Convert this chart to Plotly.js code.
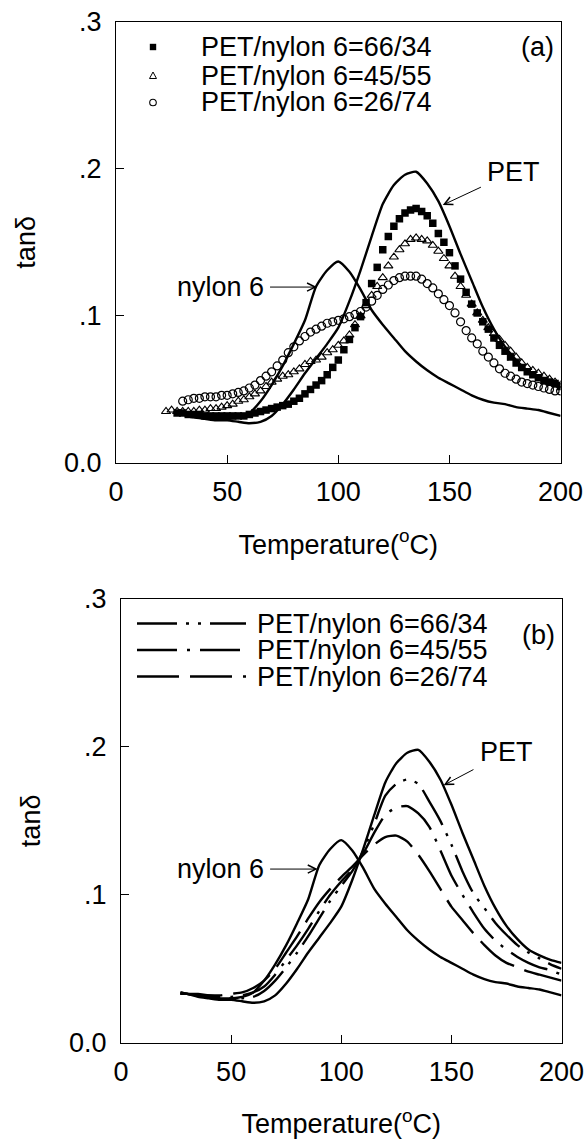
<!DOCTYPE html>
<html><head><meta charset="utf-8">
<script src="https://cdn.plot.ly/plotly-3.0.1.min.js"></script>
<style>html,body{margin:0;padding:0;background:#fff}#chart{width:585px;height:1141px}</style>
</head><body><div id="chart"></div>
<script>
// ---------- data ----------
const seriesNames = ['PET/nylon 6=66/34', 'PET/nylon 6=45/55', 'PET/nylon 6=26/74'];
const pureNames = ['PET', 'nylon 6'];
const panelLabels = ['(a)', '(b)'];
const tempTicks = [0, 50, 100, 150, 200];
const tanTicks = [0, 0.1, 0.2, 0.3];
const tanTickText = ['0.0', '.1', '.2', '.3'];

// pure components (same curves in both panels)
const tempPure = [27,30,35,40,45,50,55,60,65,70,75,80,85,90,95,100,105,110,115,120,125,130,135,140,145,150,155,160,165,170,175,180,185,190,195,200];
const tanPET   = [.034,.033,.031,.030,.029,.029,.028,.027,.028,.032,.040,.050,.061,.071,.081,.092,.110,.131,.154,.176,.189,.196,.198,.190,.178,.161,.142,.124,.106,.091,.079,.070,.063,.059,.056,.054];
const tanNylon = [.034,.033,.032,.031,.030,.030,.031,.034,.042,.053,.066,.081,.097,.120,.131,.137,.130,.118,.104,.094,.085,.076,.069,.063,.058,.054,.050,.046,.043,.041,.040,.038,.037,.036,.034,.032];

// panel (a): measured blends (symbols)
const tempSq = [27.5,30,32.5,35,37.5,40,42.5,45,47.5,50,52.5,55,57.5,60,62.5,65,67.5,70,72.5,75,77.5,80,82.5,85,87.5,90,92.5,95,97.5,100,102.5,105,107.5,110,112.5,115,117.5,120,122.5,125,127.5,130,132.5,135,137.5,140,142.5,145,147.5,150,152.5,155,157.5,160,162.5,165,167.5,170,172.5,175,177.5,180,182.5,185,187.5,190,192.5,195,197.5,200];
const tanSq = [.034,.034,.033,.033,.033,.032,.032,.032,.032,.032,
  .032,.032,.032,.033,.034,.035,.036,.037,.038,.039,
  .040,.042,.044,.047,.050,.053,.056,.060,.065,.070,
  .077,.084,.092,.0995,.109,.122,.133,.145,.154,.161,
  .166,.170,.172,.173,.171,.168,.163,.156,.150,.143,
  .134,.125,.116,.108,.102,.096,.091,.085,.080,.076,
  .072,.068,.065,.062,.060,.058,.056,.055,.054,.052];
const tempTri = [22.5,25,27.5,30,32.5,35,37.5,40,42.5,45,47.5,50,52.5,55,57.5,60,62.5,65,67.5,70,72.5,75,77.5,80,82.5,85,87.5,90,92.5,95,97.5,100,102.5,105,107.5,110,112.5,115,117.5,120,122.5,125,127.5,130,132.5,135,137.5,140,142.5,145,147.5,150,152.5,155,157.5,160,162.5,165,167.5,170,172.5,175,177.5,180,182.5,185,187.5,190,192.5,195,197.5,200];
const tanTri = [.035,.036,.035,.035,.035,.035,.036,.036,.037,.037,
  .038,.039,.040,.042,.043,.045,.047,.049,.052,.055,
  .057,.059,.060,.062,.064,.067,.069,.070,.072,.075,
  .077,.080,.083,.087,.094,.100,.107,.114,.120,.126,
  .134,.140,.145,.149,.152,.153,.152,.151,.148,.144,
  .139,.134,.127,.120,.114,.108,.102,.097,.092,.088,
  .084,.080,.076,.072,.068,.065,.063,.061,.059,.057,
  .055,.053];
const tempCir = [30,32.5,35,37.5,40,42.5,45,47.5,50,52.5,55,57.5,60,62.5,65,67.5,70,72.5,75,77.5,80,82.5,85,87.5,90,92.5,95,97.5,100,102.5,105,107.5,110,112.5,115,117.5,120,122.5,125,127.5,130,132.5,135,137.5,140,142.5,145,147.5,150,152.5,155,157.5,160,162.5,165,167.5,170,172.5,175,177.5,180,182.5,185,187.5,190,192.5,195,197.5,200];
const tanCir = [.042,.043,.044,.044,.045,.045,.045,.046,.046,.047,
  .048,.049,.051,.053,.056,.059,.062,.066,.070,.075,
  .079,.083,.086,.089,.091,.093,.095,.096,.097,.098,
  .0995,.101,.103,.106,.110,.114,.118,.121,.124,.126,
  .127,.127,.127,.125,.122,.119,.115,.111,.107,.102,
  .096,.090,.085,.081,.076,.072,.068,.064,.061,.059,
  .057,.055,.054,.053,.052,.051,.050,.049,.049];

// panel (b): calculated blends (lines)
const tan66 = [.033,.033,.032,.031,.030,.030,.030,.031,.035,.042,.051,.061,.072,.084,.096,.106,.116,.130,.148,.167,.175,.178,.175,.163,.150,.134,.116,.101,.091,.081,.073,.066,.061,.057,.053,.050];
const tan45 = [.033,.033,.032,.032,.031,.031,.032,.034,.038,.046,.056,.066,.077,.089,.100,.109,.117,.128,.142,.154,.159,.160,.155,.146,.130,.113,.100,.088,.077,.069,.063,.058,.054,.051,.049,.046];
const tan26 = [.033,.033,.033,.032,.032,.033,.034,.037,.042,.050,.061,.072,.084,.095,.104,.112,.119,.127,.134,.139,.140,.136,.127,.116,.104,.092,.083,.074,.066,.059,.054,.051,.048,.046,.044,.042];

// ---------- styling ----------
const FONT = 'Liberation Sans, Arial, Helvetica, sans-serif';
const f27 = {family: FONT, size: 27, color: '#000'};
const dashes = ['40px,9px,3px,9px,3px,9px', '40px,10px,3px,10px', '42px,11px'];
const W = 585, H = 1141;
const px = v => v / W, py = v => 1 - v / H;

const solid = (x, y, xa, ya, name) => ({x, y, xaxis: xa, yaxis: ya, name, type: 'scatter', mode: 'lines',
  line: {color: '#000', width: 2.4, shape: 'spline', smoothing: 0.6}, hoverinfo: 'skip'});

const traces = [
  solid(tempPure, tanPET, 'x', 'y', pureNames[0]),
  solid(tempPure, tanNylon, 'x', 'y', pureNames[1]),
  {x: tempSq, y: tanSq, xaxis: 'x', yaxis: 'y', name: seriesNames[0], type: 'scatter', mode: 'markers',
    marker: {symbol: 'square', size: 7.5, color: '#000'}},
  {x: tempTri, y: tanTri, xaxis: 'x', yaxis: 'y', name: seriesNames[1], type: 'scatter', mode: 'markers',
    marker: {symbol: 'triangle-up-open', size: 8, color: '#000', line: {width: 1.1, color: '#000'}}},
  {x: tempCir, y: tanCir, xaxis: 'x', yaxis: 'y', name: seriesNames[2], type: 'scatter', mode: 'markers',
    marker: {symbol: 'circle-open', size: 8, color: '#000', line: {width: 1.2, color: '#000'}}},
  solid(tempPure, tanPET, 'x2', 'y2', pureNames[0]),
  solid(tempPure, tanNylon, 'x2', 'y2', pureNames[1]),
];
[tan66, tan45, tan26].forEach((arr, i) => traces.push({x: tempPure, y: arr, xaxis: 'x2', yaxis: 'y2',
  name: seriesNames[i], type: 'scatter', mode: 'lines',
  line: {color: '#000', width: 2.4, dash: dashes[i], shape: 'spline', smoothing: 0.6}}));

function xAxis(domain, anchor) {
  return {domain, anchor, range: [0, 200], tickvals: tempTicks, ticks: 'inside', ticklen: 8, tickwidth: 1,
    tickcolor: '#000', showline: true, linecolor: '#000', linewidth: 1, mirror: true, showgrid: false,
    zeroline: false, tickfont: f27, ticklabelstandoff: 5, ticklabeloverflow: 'allow', fixedrange: true,
    title: {text: 'Temperature(<sup>o</sup>C)', font: f27, standoff: 28}};
}
function yAxis(domain, anchor) {
  return {domain, anchor, range: [0, 0.3], tickvals: tanTicks, ticktext: tanTickText, ticks: 'inside', ticklen: 8,
    tickwidth: 1, tickcolor: '#000', showline: true, linecolor: '#000', linewidth: 1, mirror: true,
    showgrid: false, zeroline: false, tickfont: f27, ticklabelstandoff: 8, ticklabeloverflow: 'allow',
    fixedrange: true, title: {text: 'tan&#948;', font: f27, standoff: 20}};
}

// legends (drawn manually, keys as shapes)
const shapes = [];
const annotations = [];
const rowsA = [47, 75.5, 102.5];
const keyX = 153, ms = 3.2;
shapes.push({type: 'rect', xref: 'paper', yref: 'paper', x0: px(keyX - ms), x1: px(keyX + ms),
  y0: py(rowsA[0] + ms), y1: py(rowsA[0] - ms), fillcolor: '#000', line: {width: 0}});
shapes.push({type: 'path', xref: 'paper', yref: 'paper',
  path: `M${px(keyX - 3.5)},${py(rowsA[1] + 3)} L${px(keyX + 3.5)},${py(rowsA[1] + 3)} L${px(keyX)},${py(rowsA[1] - 3.5)} Z`,
  line: {color: '#000', width: 1}});
shapes.push({type: 'circle', xref: 'paper', yref: 'paper', x0: px(keyX - 3.3), x1: px(keyX + 3.3),
  y0: py(rowsA[2] + 3.3), y1: py(rowsA[2] - 3.3), line: {color: '#000', width: 1.1}});
seriesNames.forEach((n, i) => annotations.push({xref: 'paper', yref: 'paper', x: px(199), y: py(rowsA[i]),
  xanchor: 'left', yanchor: 'middle', text: n, showarrow: false, font: f27}));

const rowsB = [623.5, 650, 676.5];
rowsB.forEach((r, i) => shapes.push({type: 'line', xref: 'paper', yref: 'paper', x0: px(137), x1: px(246),
  y0: py(r), y1: py(r), line: {color: '#000', width: 2.4, dash: dashes[i]}}));
seriesNames.forEach((n, i) => annotations.push({xref: 'paper', yref: 'paper', x: px(255), y: py(rowsB[i]),
  xanchor: 'left', yanchor: 'middle', text: n, showarrow: false, font: f27}));

annotations.push({xref: 'paper', yref: 'paper', x: px(537), y: py(47), xanchor: 'center', yanchor: 'middle',
  text: panelLabels[0], showarrow: false, font: f27});
annotations.push({xref: 'paper', yref: 'paper', x: px(538), y: py(635), xanchor: 'center', yanchor: 'middle',
  text: panelLabels[1], showarrow: false, font: f27});

// curve labels with arrows: text sits at the arrow tail (ax, ay), arrow points at (hx, hy)
function label(xr, yr, text, tx, ty, hx, hy) {
  annotations.push({xref: xr, yref: yr, axref: xr, ayref: yr, x: hx, y: hy, ax: tx, ay: ty, text,
    font: f27, showarrow: true, arrowhead: 5, arrowsize: 1.6, arrowwidth: 1, arrowcolor: '#000',
    standoff: 0, borderpad: 6, xanchor: 'center', yanchor: 'middle'});
}
label('x', 'y', pureNames[0], 179, 0.198, 147, 0.1754);
label('x', 'y', pureNames[1], 46.8, 0.1196, 90.4, 0.1196);
label('x2', 'y2', pureNames[0], 175, 0.1964, 146.5, 0.1741);
label('x2', 'y2', pureNames[1], 45, 0.1174, 89.3, 0.1174);

const layout = {
  width: W, height: H, margin: {l: 0, r: 0, t: 0, b: 0}, showlegend: false,
  paper_bgcolor: '#fff', plot_bgcolor: '#fff', font: f27,
  xaxis: xAxis([116 / W, 560.6 / W], 'y'),
  yaxis: yAxis([1 - 463 / H, 1 - 21.7 / H], 'x'),
  xaxis2: xAxis([121 / W, 561.5 / W], 'y2'),
  yaxis2: yAxis([1 - 1042.7 / H, 1 - 599 / H], 'x2'),
  shapes, annotations
};
Plotly.newPlot('chart', traces, layout, {staticPlot: true, displayModeBar: false});
</script></body></html>
